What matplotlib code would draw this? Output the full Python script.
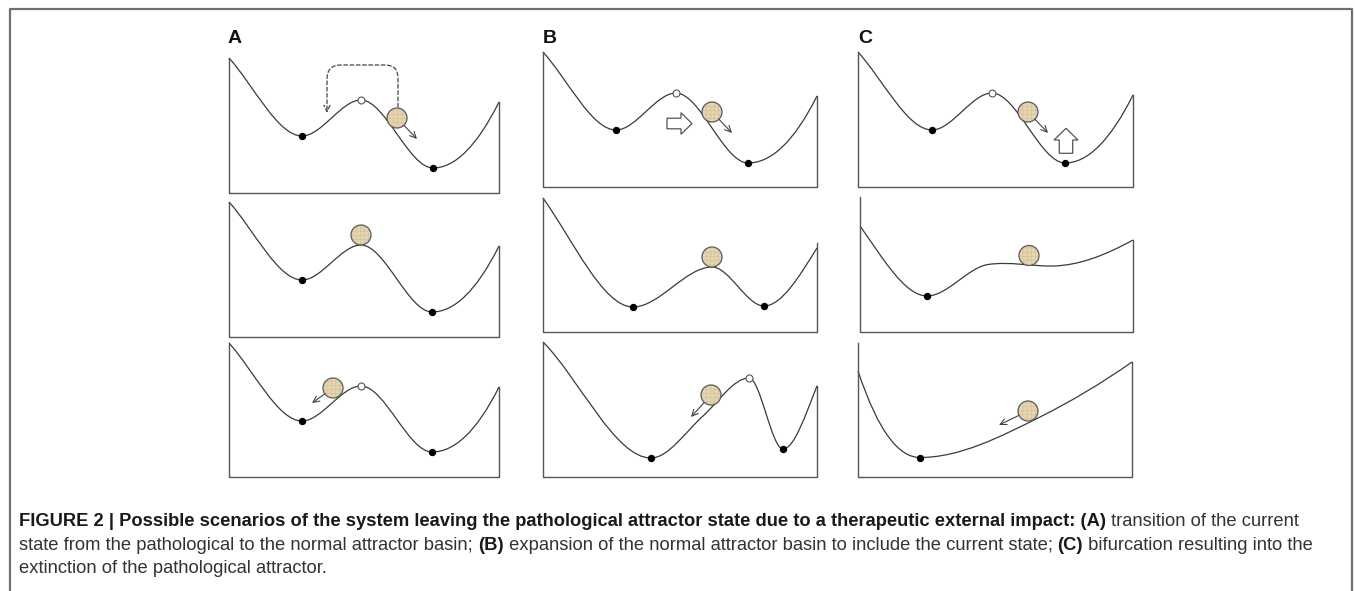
import matplotlib
matplotlib.use("Agg")
import matplotlib.pyplot as plt
from matplotlib.path import Path
from matplotlib.patches import PathPatch, Circle, FancyArrowPatch, FancyArrow

plt.rcParams['font.family'] = ['Liberation Sans', 'DejaVu Sans']
plt.rcParams['hatch.linewidth'] = 0.3

FIG_W, FIG_H = 1355, 591

LINE = '#3a3a3a'
FRAME = '#555555'
BALL = '#e4d4b0'

# landscape knots: (state, potential, slope, kind) in panel pixel units
knots_A1 = [(0, 135, -1.1, ""), (73, 57, 0, "min"), (132, 93, 0, "max"), (204, 25, 0, "min"), (270, 91, 2.0, "")]
knots_B1 = [(0, 135, -1.1, ""), (73, 57, 0, "min"), (133, 94, 0, "max"), (205, 24, 0, "min"), (274, 91, 2.0, "")]
knots_C1 = [(0, 135, -1.1, ""), (74, 57, 0, "min"), (134, 94, 0, "max"), (207, 24, 0, "min"), (275, 92, 2.0, "")]
knots_A2 = [(0, 135, -1.1, ""), (73, 57, 0, "min"), (132, 92, 0, ""), (203, 25, 0, "min"), (270, 91, 2.0, "")]
knots_B2 = [(0, 134, -1.4, ""), (90, 25, 0, "min"), (169, 65, 0, ""), (221, 26, 0, "min"), (274, 84, 1.6, "")]
knots_C2 = [(0, 106, -1.4, ""), (67, 36, 0, "min"), (128, 67.5, 0.15, ""), (193, 66, 0.02, ""), (273, 92, 0.55, "")]
knots_A3 = [(0, 134, -1.1, ""), (73, 56, 0, "min"), (132, 91, 0, "max"), (203, 25, 0, "min"), (270, 90, 2.0, "")]
knots_B3 = [(0, 135, -1.0, ""), (108, 19, 0, "min"), (160, 61, 0.9, ""), (206, 99, 0, "max"),
            (240, 28, 0, "min"), (274, 91, 2.5, "")]
knots_C3 = [(0, 106, -3.0, ""), (62, 19.5, 0, "min"), (182, 60, 0.5, ""), (274, 115, 0.7, "")]

# panel boxes: left, top, width, height (pixels)
box_A1, box_B1, box_C1 = (229, 58, 270, 135), (543, 52, 274, 135), (858, 52, 275, 135)
box_A2, box_B2, box_C2 = (229, 202, 270, 135), (543, 198, 274, 134), (860, 197, 273, 135)
box_A3, box_B3, box_C3 = (229, 343, 270, 134), (543, 342, 274, 135), (858, 343, 274, 134)

# wall heights (left, right)
walls_A1, walls_B1, walls_C1 = (135, 91), (135, 91), (135, 92)
walls_A2, walls_B2, walls_C2 = (135, 91), (134, 89), (135, 92)
walls_A3, walls_B3, walls_C3 = (134, 90), (135, 91), (134, 115)

# ball (current state) and push arrow tips
ball_A1, ball_B1, ball_C1 = (168, 75), (169, 75), (170, 75)
ball_A2, ball_B2, ball_C2 = (132, 102), (169, 75), (169, 76.5)
ball_A3, ball_B3, ball_C3 = (104, 89), (168, 82), (170, 66)
push_A1, push_B1, push_C1 = (188, 54), (189, 54), (190, 54)
push_A3, push_B3, push_C3 = (83, 74), (148, 60), (141, 52)
BALL_R = 10

# dashed jump in A1
jump_A1 = [(169, 86), (169, 115), (169, 128), (156, 128), (112, 128), (98, 128), (98, 114), (98, 80)]
# hollow impact arrows: x, y, dx, dy, width, head width, head length
impact_B1 = (124, 63.5, 25, 0, 10.6, 21.6, 11)
impact_C1 = (208, 33.7, 0, 25, 13.4, 24, 11.7)

panel_letters = ['A', 'B', 'C']
letter_x = [228, 543, 858]

cap_line1 = [("FIGURE 2 | Possible scenarios of the system leaving the pathological attractor state due to a "
              "therapeutic external impact: (A)", "bold"), (" transition of the current", "normal")]
cap_line2 = [("state from the pathological to the normal attractor basin; ", "normal"), ("(B)", "bold"),
             (" expansion of the normal attractor basin to include the current state; ", "normal"),
             ("(C)", "bold"), (" bifurcation resulting into the", "normal")]
cap_line3 = [("extinction of the pathological attractor.", "normal")]


def landscape_path(knots):
    verts = [knots[0][:2]]
    codes = [Path.MOVETO]
    for (x0, y0, m0, _), (x1, y1, m1, _) in zip(knots[:-1], knots[1:]):
        h = (x1 - x0) / 3
        verts += [(x0 + h, y0 + h * m0), (x1 - h, y1 - h * m1), (x1, y1)]
        codes += [Path.CURVE4] * 3
    return Path(verts, codes)


fig = plt.figure(figsize=(FIG_W / 100, FIG_H / 100), dpi=100)
bg = fig.add_axes([0, 0, 1, 1])
bg.set_xlim(0, FIG_W)
bg.set_ylim(FIG_H, 0)
bg.axis('off')

# outer frame
bg.plot([10, 10, 1352, 1352], [FIG_H + 5, 9, 9, FIG_H + 5], color='#707070', lw=1.6, clip_on=False)


def draw_panel(box, walls, knots, ball, push=None):
    left, top, w, h = box
    ax = fig.add_axes([left / FIG_W, 1 - (top + h) / FIG_H, w / FIG_W, h / FIG_H])
    ax.set_xlim(0, w)
    ax.set_ylim(0, h)
    ax.axis('off')
    ax.plot([0, 0, w, w], [walls[0], 0, 0, walls[1]], color=FRAME, lw=1.0, clip_on=False)
    ax.add_patch(PathPatch(landscape_path(knots), fill=False, ec=LINE, lw=0.9, clip_on=False))
    for x, y, _, kind in knots:
        if kind == "min":
            ax.plot(x, y, 'o', ms=4.3, color='black', zorder=5, clip_on=False)
        elif kind == "max":
            ax.plot(x, y, 'o', ms=5, mfc='white', mec='#555555', mew=0.8, zorder=5, clip_on=False)
    ax.add_patch(Circle(ball, BALL_R, fc=BALL, ec='#cdb98f', hatch='++++', lw=0, zorder=6, clip_on=False))
    ax.add_patch(Circle(ball, BALL_R, fill=False, ec='#5a5a5a', lw=0.9, zorder=7, clip_on=False))
    if push is not None:
        dx, dy = push[0] - ball[0], push[1] - ball[1]
        d = (dx ** 2 + dy ** 2) ** 0.5
        start = (ball[0] + BALL_R * dx / d, ball[1] + BALL_R * dy / d)
        ax.annotate('', xy=push, xytext=start,
                    arrowprops=dict(arrowstyle='->,head_length=0.45,head_width=0.22',
                                    color='#444444', lw=0.8, shrinkA=0, shrinkB=0), zorder=7)
    return ax


axA1 = draw_panel(box_A1, walls_A1, knots_A1, ball_A1, push_A1)
axB1 = draw_panel(box_B1, walls_B1, knots_B1, ball_B1, push_B1)
axC1 = draw_panel(box_C1, walls_C1, knots_C1, ball_C1, push_C1)
draw_panel(box_A2, walls_A2, knots_A2, ball_A2)
draw_panel(box_B2, walls_B2, knots_B2, ball_B2)
draw_panel(box_C2, walls_C2, knots_C2, ball_C2)
draw_panel(box_A3, walls_A3, knots_A3, ball_A3, push_A3)
draw_panel(box_B3, walls_B3, knots_B3, ball_B3, push_B3)
draw_panel(box_C3, walls_C3, knots_C3, ball_C3, push_C3)

# dashed jump across the barrier
jump_codes = [Path.MOVETO, Path.LINETO, Path.CURVE3, Path.CURVE3, Path.LINETO,
              Path.CURVE3, Path.CURVE3, Path.LINETO]
axA1.add_patch(FancyArrowPatch(path=Path(jump_A1, jump_codes), arrowstyle='->,head_length=0.45,head_width=0.22',
                               mutation_scale=10, color='#444444', lw=0.9, linestyle=(0, (3, 2)),
                               clip_on=False, zorder=5))

# hollow impact arrows
for ax, (x, y, dx, dy, wd, hw, hl) in [(axB1, impact_B1), (axC1, impact_C1)]:
    ax.add_patch(FancyArrow(x, y, dx, dy, width=wd, head_width=hw, head_length=hl,
                            length_includes_head=True, fc='white', ec='#555555', lw=0.9, clip_on=False))

for letter, x in zip(panel_letters, letter_x):
    bg.text(x, 43, letter, fontsize=14, fontweight='bold', ha='left', va='baseline', color='#111111')


def caption_line(x, y, pieces, size=13.2):
    prev = None
    for text, weight in pieces:
        color = '#1a1a1a' if weight == 'bold' else '#333333'
        if prev is None:
            prev = bg.text(x, y, text, fontsize=size, fontweight=weight, color=color, ha='left', va='baseline')
        else:
            prev = bg.annotate(text, xy=(1, 0), xycoords=prev, fontsize=size, fontweight=weight,
                               color=color, ha='left', va='bottom')


caption_line(19, 526, cap_line1)
caption_line(19, 549.5, cap_line2)
caption_line(19, 573, cap_line3)

fig.savefig('out.png', dpi=100)
